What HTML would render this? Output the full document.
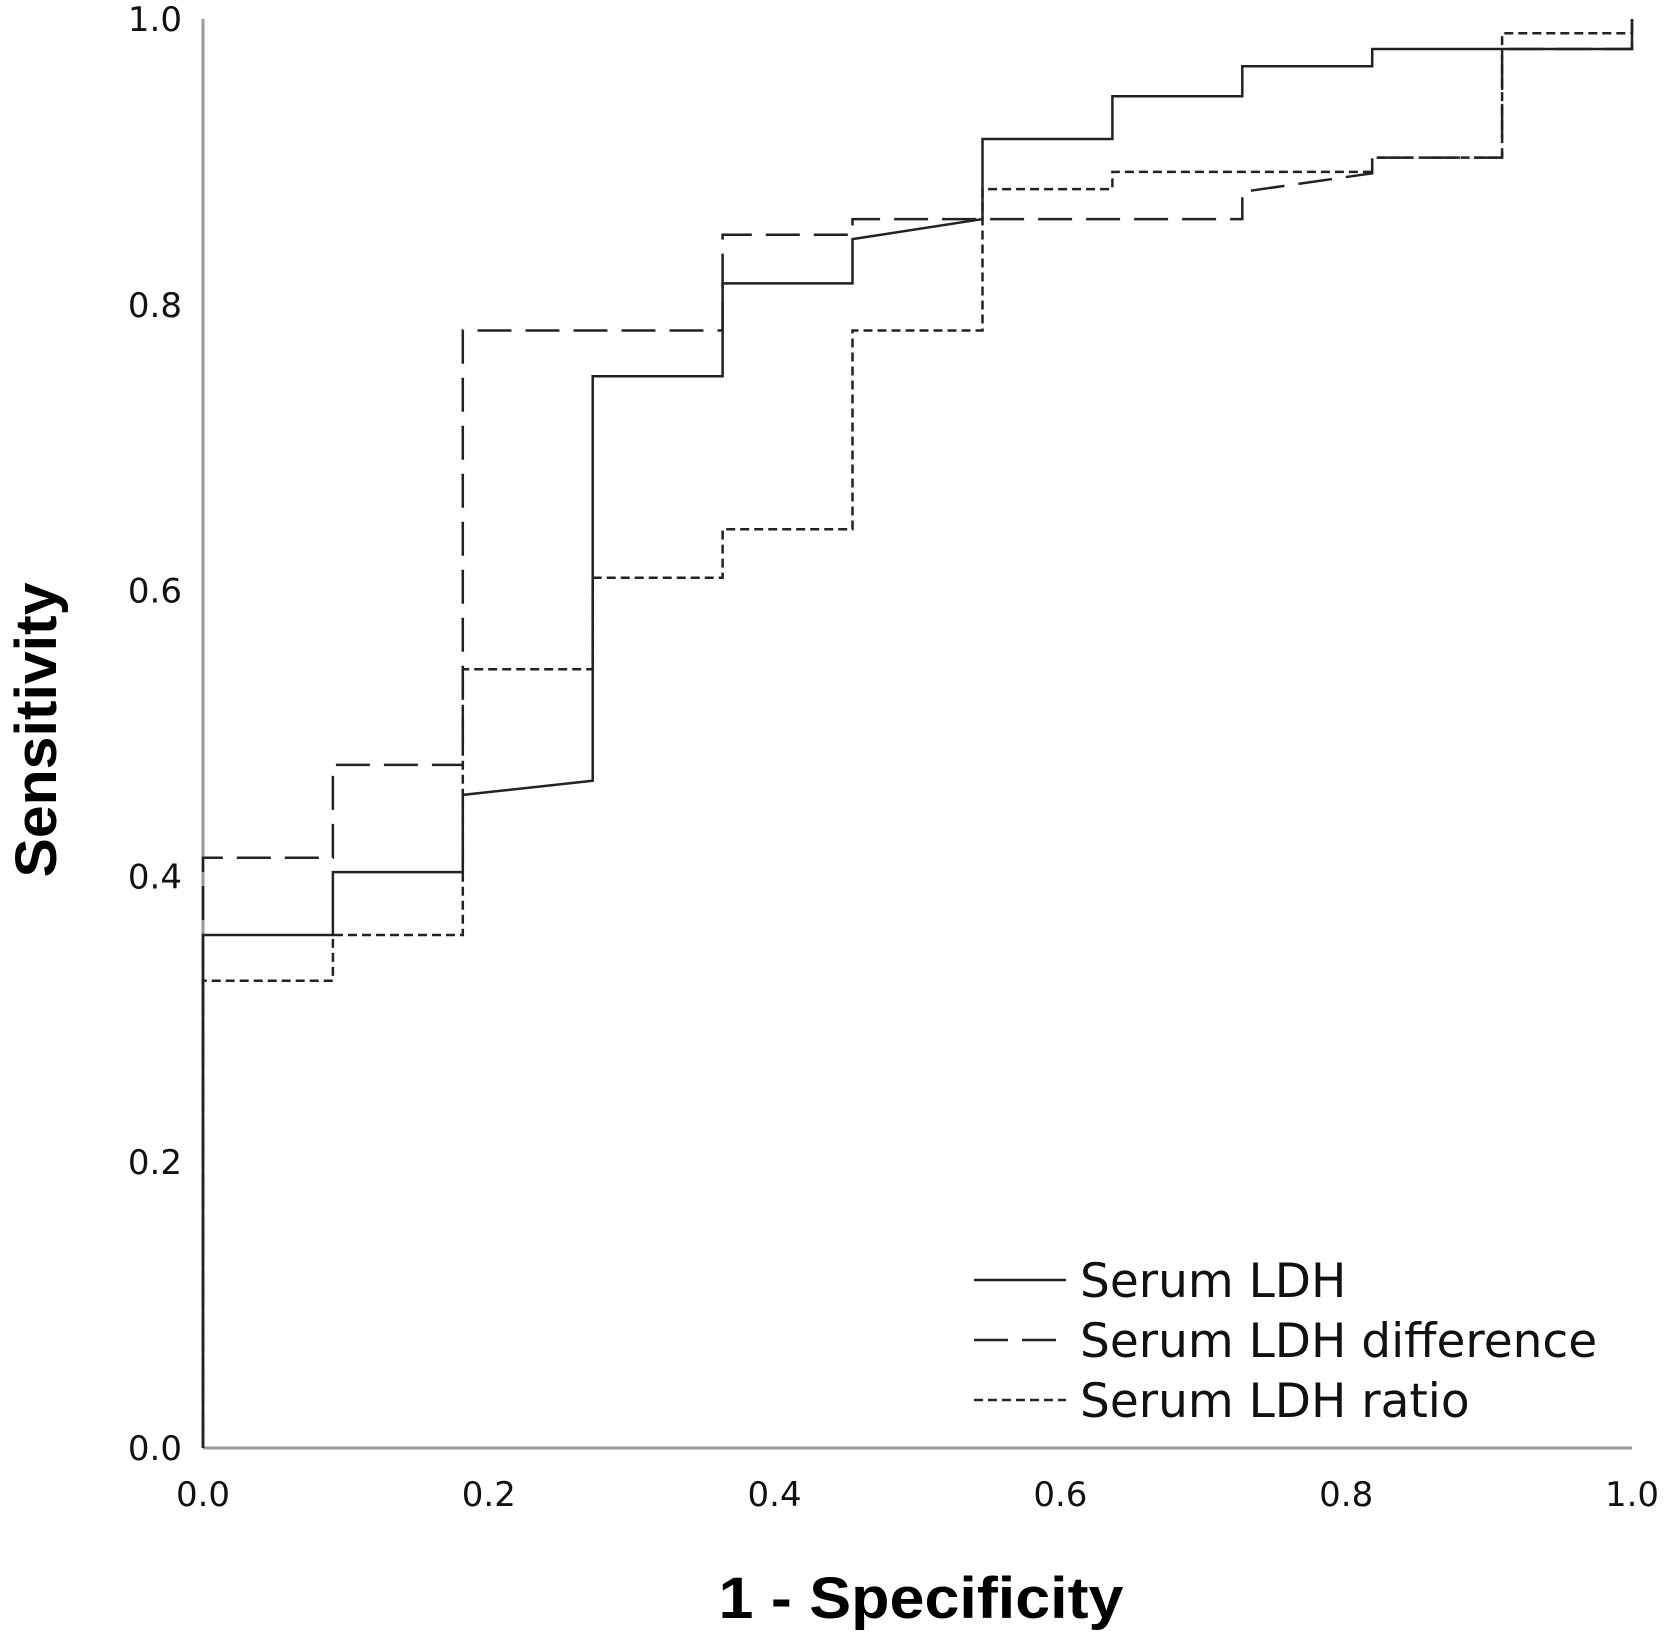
<!DOCTYPE html>
<html><head><meta charset="utf-8"><style>
html,body{margin:0;padding:0;background:#fff;}
svg{display:block;}
</style></head><body>
<svg id="chart" width="1667" height="1633" viewBox="0 0 1667 1633" xmlns="http://www.w3.org/2000/svg">
<g id="axes"></g>
<g id="series"></g>
<text x="921" y="1618" text-anchor="middle" font-family="Liberation Sans, sans-serif" font-weight="bold" font-size="58" textLength="405" lengthAdjust="spacingAndGlyphs">1 - Specificity</text>
<text transform="translate(56,730) rotate(-90)" text-anchor="middle" font-family="Liberation Sans, sans-serif" font-weight="bold" font-size="58" textLength="295" lengthAdjust="spacingAndGlyphs">Sensitivity</text>
<g id="legend"></g>
</svg>
<script>
const xTicks=[0,0.2,0.4,0.6,0.8,1.0];
const yTicks=[0,0.2,0.4,0.6,0.8,1.0];
const tickLabels=["0.0","0.2","0.4","0.6","0.8","1.0"];
const seriesNames=["Serum LDH","Serum LDH difference","Serum LDH ratio"];
const ldhX=[0,0,0.0909,0.0909,0.1818,0.1818,0.2727,0.2727,0.3636,0.3636,0.4545,0.4545,0.5455,0.5455,0.6364,0.6364,0.7273,0.7273,0.8182,0.8182,1,1];
const ldhY=[0,0.359,0.359,0.403,0.403,0.457,0.467,0.75,0.75,0.815,0.815,0.846,0.86,0.916,0.916,0.946,0.946,0.967,0.967,0.979,0.979,1];
const diffX=[0,0,0.0909,0.0909,0.1818,0.1818,0.3636,0.3636,0.4545,0.4545,0.7273,0.7273,0.8182,0.8182,0.9091,0.9091,1,1];
const diffY=[0,0.413,0.413,0.478,0.478,0.782,0.782,0.849,0.849,0.86,0.86,0.879,0.892,0.903,0.903,0.979,0.979,1];
const ratioX=[0,0,0.0909,0.0909,0.1818,0.1818,0.2727,0.2727,0.3636,0.3636,0.4545,0.4545,0.5455,0.5455,0.6364,0.6364,0.8182,0.8182,0.9091,0.9091,1,1];
const ratioY=[0,0.327,0.327,0.359,0.359,0.545,0.545,0.609,0.609,0.643,0.643,0.782,0.782,0.881,0.881,0.893,0.893,0.903,0.903,0.99,0.99,1];

const NS="http://www.w3.org/2000/svg";
const X0=203,X1=1632,Y0=1448,Y1=19;
const sx=v=>X0+v*(X1-X0);
const sy=v=>Y0-v*(Y0-Y1);
function mk(tag,attrs,parent){const e=document.createElementNS(NS,tag);for(const a in attrs)e.setAttribute(a,attrs[a]);parent.appendChild(e);return e;}
const axes=document.getElementById('axes');
let l=mk('line',{x1:X0,y1:Y1,x2:X0,y2:Y0,stroke:'#999','stroke-width':3},axes);


l=mk('line',{x1:X0,y1:Y0,x2:X1,y2:Y0,stroke:'#999','stroke-width':3},axes);


xTicks.forEach((v,i)=>{const t=mk('text',{x:sx(v),y:1506,'text-anchor':'middle','font-family':'DejaVu Sans, sans-serif','font-size':34,fill:'#111'},axes);t.textContent=tickLabels[i];

});
yTicks.forEach((v,i)=>{const t=mk('text',{x:182,y:sy(v)+12,'text-anchor':'end','font-family':'DejaVu Sans, sans-serif','font-size':34,fill:'#111'},axes);t.textContent=tickLabels[i];

});
const sg=document.getElementById('series');
function path(xs,ys,dash,name){let d='';xs.forEach((x,i)=>{d+=(i?'L':'M')+sx(x).toFixed(1)+','+sy(ys[i]).toFixed(1);});
const p=mk('path',{d:d,fill:'none',stroke:'#222','stroke-width':2.5},sg);if(dash)p.setAttribute('stroke-dasharray',dash);

return p;}
path(ldhX,ldhY,null,'serum-ldh-line');
path(diffX,diffY,'34,14','serum-ldh-difference-line');
path(ratioX,ratioY,'9,5','serum-ldh-ratio-line');
const lg=document.getElementById('legend');
const dashes=[null,'34,14','9,5'];
seriesNames.forEach((n,i)=>{const y=1280+i*60;
const ln=mk('line',{x1:974,y1:y,x2:1066,y2:y,stroke:'#222','stroke-width':2.5},lg);if(dashes[i])ln.setAttribute('stroke-dasharray',dashes[i]);


const t=mk('text',{x:1080,y:y+17,'font-family':'DejaVu Sans, sans-serif','font-size':47,fill:'#111'},lg);t.textContent=n;

});
</script>
</body></html>
